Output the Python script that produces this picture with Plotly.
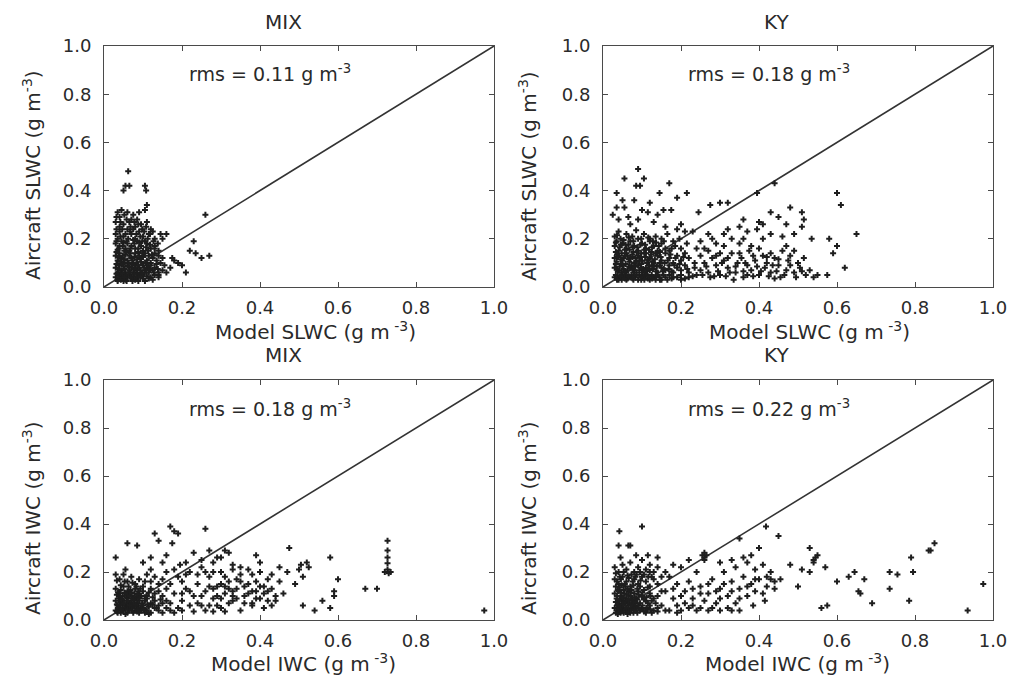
import plotly.graph_objects as go

# ---------------- data ----------------
panel_titles = ["MIX", "KY", "MIX", "KY"]
rms_values = ["0.11", "0.18", "0.18", "0.22"]
x_titles = ["Model SLWC", "Model SLWC", "Model IWC", "Model IWC"]
y_titles = ["Aircraft SLWC", "Aircraft SLWC", "Aircraft IWC", "Aircraft IWC"]
tick_vals = [0.0, 0.2, 0.4, 0.6, 0.8, 1.0]
tick_text = ["0.0", "0.2", "0.4", "0.6", "0.8", "1.0"]
one_to_one = [0.0, 1.0]

mix_slwc = [
    (0.062,0.48),(0.055,0.42),(0.065,0.42),(0.05,0.40),(0.105,0.42),(0.108,0.40),(0.11,0.34),(0.105,0.32),
    (0.26,0.30),(0.23,0.19),(0.22,0.15),(0.235,0.14),(0.25,0.12),(0.27,0.13),(0.175,0.12),(0.19,0.10),
    (0.20,0.09),(0.21,0.06),(0.15,0.20),(0.16,0.22),(0.155,0.09),(0.14,0.05),(0.18,0.11),(0.17,0.08),(0.13,0.16),
    (0.035,0.31),(0.045,0.32),(0.06,0.31),(0.075,0.30),(0.09,0.31),(0.04,0.29),(0.07,0.28),
    (0.03,0.27),(0.05,0.26),(0.065,0.27),(0.08,0.25),(0.095,0.26),(0.11,0.27),(0.04,0.25),(0.12,0.24),(0.085,0.28),
    (0.03,0.22),(0.04,0.23),(0.05,0.21),(0.06,0.24),(0.07,0.22),(0.08,0.20),(0.09,0.23),(0.10,0.21),(0.115,0.22),
    (0.13,0.20),(0.145,0.22),(0.035,0.20),(0.055,0.22),(0.075,0.24),(0.125,0.23),
    (0.03,0.18),(0.04,0.17),(0.045,0.19),(0.055,0.16),(0.06,0.18),(0.07,0.17),(0.08,0.16),(0.085,0.19),(0.095,0.17),
    (0.10,0.15),(0.11,0.18),(0.12,0.16),(0.13,0.17),(0.14,0.15),(0.035,0.155),(0.065,0.15),(0.09,0.185),(0.105,0.19),
    (0.075,0.195),(0.05,0.185),
    (0.03,0.13),(0.035,0.11),(0.04,0.14),(0.045,0.12),(0.05,0.10),(0.055,0.135),(0.06,0.11),(0.065,0.13),(0.07,0.12),
    (0.075,0.10),(0.08,0.14),(0.085,0.115),(0.09,0.13),(0.095,0.105),(0.10,0.125),(0.105,0.14),(0.11,0.11),(0.115,0.13),
    (0.12,0.10),(0.125,0.12),(0.13,0.14),(0.135,0.11),(0.14,0.13),(0.15,0.12),(0.145,0.10),
    (0.03,0.08),(0.035,0.06),(0.04,0.09),(0.045,0.07),(0.05,0.085),(0.055,0.06),(0.06,0.09),(0.065,0.07),(0.07,0.08),
    (0.075,0.06),(0.08,0.09),(0.085,0.07),(0.09,0.08),(0.095,0.06),(0.10,0.09),(0.105,0.07),(0.11,0.08),(0.115,0.06),
    (0.12,0.09),(0.125,0.07),(0.13,0.08),(0.14,0.06),(0.15,0.07),(0.16,0.06),(0.135,0.095),
    (0.03,0.04),(0.035,0.03),(0.04,0.05),(0.045,0.035),(0.05,0.045),(0.055,0.03),(0.06,0.04),(0.065,0.05),(0.07,0.035),
    (0.075,0.045),(0.08,0.03),(0.085,0.04),(0.09,0.05),(0.10,0.035),(0.11,0.045),(0.12,0.04),(0.13,0.05),(0.14,0.04),
    (0.035,0.025),(0.05,0.025),
]
mix_slwc_dense = [
    (0.032,0.29),(0.042,0.27),(0.052,0.30),(0.058,0.28),(0.068,0.25),(0.078,0.27),(0.088,0.26),(0.098,0.24),(0.108,0.25),(0.118,0.22),
    (0.032,0.24),(0.042,0.21),(0.047,0.24),(0.062,0.20),(0.067,0.23),(0.083,0.22),(0.093,0.21),(0.103,0.23),(0.112,0.20),(0.127,0.19),
    (0.032,0.19),(0.038,0.16),(0.048,0.17),(0.052,0.15),(0.058,0.19),(0.068,0.16),(0.078,0.18),(0.088,0.16),(0.098,0.19),(0.108,0.165),
    (0.118,0.175),(0.138,0.18),
    (0.032,0.145),(0.038,0.125),(0.043,0.105),(0.048,0.13),(0.053,0.115),(0.058,0.145),(0.063,0.10),(0.068,0.14),(0.073,0.11),
    (0.078,0.125),(0.083,0.10),(0.088,0.145),(0.093,0.12),(0.098,0.14),(0.108,0.10),(0.113,0.15),(0.123,0.135),
    (0.032,0.095),(0.038,0.075),(0.043,0.055),(0.048,0.095),(0.053,0.075),(0.058,0.05),(0.063,0.085),(0.068,0.06),(0.073,0.095),
    (0.078,0.075),(0.083,0.055),(0.088,0.09),(0.093,0.07),(0.098,0.05),(0.103,0.08),(0.108,0.06),(0.113,0.09),(0.118,0.075),
    (0.128,0.06),(0.138,0.075),
    (0.032,0.055),(0.038,0.04),(0.043,0.03),(0.048,0.055),(0.053,0.04),(0.058,0.025),(0.063,0.06),(0.068,0.04),(0.073,0.025),
    (0.078,0.055),(0.083,0.035),(0.088,0.025),(0.093,0.04),(0.098,0.055),(0.105,0.025),(0.115,0.035),(0.125,0.03),
]

ky_slwc = [
    (0.035,0.39),(0.09,0.49),(0.055,0.45),(0.105,0.45),(0.085,0.42),(0.095,0.42),(0.145,0.39),(0.17,0.43),(0.19,0.37),
    (0.215,0.39),(0.035,0.33),(0.055,0.33),(0.05,0.36),(0.08,0.36),(0.12,0.35),(0.10,0.32),(0.155,0.32),(0.175,0.32),
    (0.275,0.34),(0.30,0.35),(0.32,0.35),(0.245,0.31),(0.395,0.39),(0.44,0.43),(0.48,0.33),(0.51,0.31),(0.515,0.28),
    (0.51,0.25),(0.45,0.29),(0.43,0.31),(0.40,0.27),(0.60,0.39),(0.61,0.34),(0.65,0.22),(0.535,0.20),(0.58,0.20),
    (0.49,0.22),(0.60,0.17),(0.59,0.14),(0.62,0.08),(0.575,0.05),(0.55,0.05),(0.43,0.22),(0.395,0.24),(0.36,0.20),
    (0.38,0.17),(0.35,0.25),(0.32,0.24),(0.27,0.22),(0.28,0.20),(0.30,0.14),
    (0.065,0.29),(0.09,0.28),(0.13,0.27),(0.16,0.25),(0.19,0.24),(0.21,0.23),(0.14,0.30),(0.115,0.31),(0.04,0.28),
    (0.025,0.30),(0.07,0.26),(0.20,0.26),(0.23,0.23),
    (0.03,0.21),(0.045,0.20),(0.06,0.22),(0.075,0.21),(0.09,0.20),(0.105,0.22),(0.12,0.20),(0.135,0.21),(0.15,0.20),
    (0.165,0.22),(0.18,0.19),(0.04,0.23),(0.085,0.235),
    (0.03,0.17),(0.04,0.15),(0.05,0.18),(0.06,0.16),(0.07,0.19),(0.08,0.17),(0.09,0.15),(0.10,0.18),(0.11,0.16),
    (0.12,0.19),(0.13,0.17),(0.14,0.15),(0.15,0.18),(0.16,0.16),(0.17,0.15),(0.185,0.17),(0.20,0.16),(0.215,0.18),
    (0.035,0.19),(0.065,0.175),
    (0.03,0.12),(0.04,0.13),(0.05,0.11),(0.06,0.14),(0.07,0.12),(0.08,0.10),(0.09,0.13),(0.10,0.11),(0.11,0.14),
    (0.12,0.12),(0.13,0.10),(0.14,0.13),(0.15,0.11),(0.16,0.14),(0.17,0.12),(0.18,0.10),(0.19,0.13),(0.20,0.11),
    (0.21,0.14),(0.22,0.12),(0.235,0.10),(0.035,0.105),(0.075,0.135),(0.125,0.145),
    (0.03,0.08),(0.04,0.07),(0.05,0.09),(0.06,0.06),(0.07,0.08),(0.08,0.07),(0.09,0.09),(0.10,0.06),(0.11,0.08),
    (0.12,0.07),(0.13,0.09),(0.14,0.06),(0.15,0.08),(0.16,0.07),(0.17,0.09),(0.18,0.06),(0.19,0.08),(0.20,0.07),
    (0.21,0.09),(0.22,0.06),(0.235,0.08),(0.25,0.07),
    (0.03,0.04),(0.04,0.03),(0.05,0.05),(0.06,0.03),(0.07,0.04),(0.08,0.05),(0.09,0.03),(0.10,0.04),(0.11,0.05),
    (0.12,0.03),(0.13,0.04),(0.14,0.05),(0.15,0.03),(0.16,0.04),(0.17,0.05),(0.18,0.04),(0.20,0.05),(0.22,0.04),(0.24,0.05),
    (0.25,0.13),(0.26,0.10),(0.27,0.06),(0.28,0.12),(0.29,0.09),(0.30,0.05),(0.31,0.11),(0.32,0.08),(0.33,0.14),
    (0.34,0.06),(0.345,0.10),(0.355,0.12),(0.36,0.04),(0.37,0.09),(0.375,0.15),(0.38,0.07),(0.39,0.11),(0.40,0.05),
    (0.41,0.13),(0.415,0.08),(0.42,0.10),(0.43,0.06),(0.44,0.12),(0.45,0.09),(0.455,0.04),(0.46,0.15),(0.47,0.07),
    (0.475,0.11),(0.48,0.13),(0.49,0.06),(0.50,0.10),(0.505,0.08),(0.515,0.12),(0.52,0.05),(0.53,0.07),(0.54,0.04),
    (0.26,0.16),(0.285,0.045),(0.31,0.17),(0.335,0.03),(0.35,0.18),(0.37,0.05),(0.40,0.16),(0.43,0.14),(0.44,0.035),
    (0.47,0.17),(0.49,0.15),(0.33,0.20),(0.31,0.22),(0.37,0.23),(0.41,0.20),(0.46,0.21),(0.25,0.19),(0.24,0.16),
    (0.29,0.18),(0.41,0.26),(0.47,0.26),(0.36,0.28),
]
ky_slwc_dense = [
    (0.033,0.185),(0.043,0.165),(0.053,0.195),(0.058,0.175),(0.068,0.155),(0.078,0.19),(0.088,0.165),(0.098,0.20),(0.108,0.175),
    (0.118,0.155),(0.128,0.19),(0.143,0.17),
    (0.033,0.145),(0.038,0.125),(0.048,0.14),(0.053,0.12),(0.063,0.13),(0.068,0.105),(0.078,0.145),(0.083,0.12),(0.093,0.11),
    (0.098,0.14),(0.108,0.125),(0.113,0.10),(0.123,0.135),(0.133,0.115),(0.148,0.125),(0.158,0.10),(0.173,0.135),
    (0.033,0.095),(0.038,0.065),(0.043,0.085),(0.048,0.06),(0.053,0.075),(0.058,0.095),(0.063,0.07),(0.073,0.09),(0.078,0.06),
    (0.083,0.085),(0.093,0.07),(0.098,0.095),(0.103,0.075),(0.113,0.065),(0.118,0.09),(0.128,0.075),(0.138,0.085),(0.153,0.065),
    (0.168,0.075),(0.183,0.09),
    (0.033,0.05),(0.038,0.035),(0.043,0.045),(0.048,0.03),(0.053,0.04),(0.058,0.05),(0.063,0.035),(0.073,0.05),(0.078,0.03),
    (0.083,0.04),(0.093,0.05),(0.098,0.03),(0.105,0.045),(0.115,0.035),(0.125,0.05),(0.135,0.03),(0.145,0.04),(0.155,0.05),
    (0.165,0.03),(0.19,0.04),(0.21,0.035),(0.23,0.045),
    (0.255,0.05),(0.265,0.085),(0.275,0.04),(0.295,0.065),(0.305,0.10),(0.315,0.045),(0.325,0.06),(0.34,0.085),(0.36,0.065),
    (0.365,0.10),(0.385,0.045),(0.395,0.085),(0.405,0.065),(0.425,0.045),(0.435,0.09),(0.445,0.065),(0.465,0.05),(0.48,0.09),
    (0.495,0.04),(0.51,0.065),(0.45,0.115),(0.42,0.125),(0.385,0.13),(0.35,0.14),(0.32,0.12),(0.29,0.13),(0.27,0.15),
    (0.036,0.215),(0.046,0.175),(0.056,0.155),(0.066,0.205),(0.076,0.165),(0.086,0.145),(0.096,0.175),(0.106,0.155),
    (0.116,0.205),(0.126,0.165),(0.136,0.185),(0.146,0.145),(0.156,0.19),(0.176,0.16),(0.196,0.20),
    (0.036,0.135),(0.046,0.115),(0.056,0.13),(0.066,0.115),(0.076,0.125),(0.086,0.105),(0.096,0.125),(0.106,0.14),
    (0.116,0.115),(0.126,0.105),(0.136,0.14),(0.146,0.10),(0.166,0.11),(0.186,0.12),(0.206,0.125),
    (0.036,0.075),(0.046,0.095),(0.056,0.065),(0.066,0.085),(0.076,0.075),(0.086,0.06),(0.096,0.08),(0.106,0.065),
    (0.116,0.075),(0.126,0.085),(0.136,0.065),(0.146,0.09),(0.156,0.075),(0.176,0.065),(0.196,0.095),(0.216,0.075),
    (0.036,0.03),(0.046,0.045),(0.056,0.035),(0.066,0.045),(0.076,0.035),(0.086,0.05),(0.096,0.04),(0.106,0.03),
    (0.116,0.045),(0.126,0.035),(0.136,0.045),(0.146,0.03),(0.176,0.035),(0.20,0.03),
]

mix_iwc = [
    (0.03,0.26),(0.06,0.32),(0.085,0.31),(0.13,0.36),(0.14,0.33),(0.17,0.39),(0.18,0.37),(0.19,0.36),(0.175,0.32),
    (0.26,0.38),(0.475,0.30),(0.58,0.26),(0.52,0.24),(0.525,0.22),(0.51,0.18),(0.49,0.15),(0.47,0.20),(0.45,0.16),
    (0.60,0.17),(0.59,0.12),(0.59,0.10),(0.56,0.08),(0.58,0.05),(0.54,0.04),(0.51,0.06),(0.67,0.13),(0.70,0.13),
    (0.727,0.33),(0.727,0.29),(0.727,0.26),(0.727,0.236),(0.727,0.21),(0.72,0.20),(0.735,0.20),(0.73,0.195),
    (0.975,0.04),(0.39,0.27),(0.40,0.24),(0.39,0.16),(0.41,0.14),(0.32,0.28),(0.33,0.23),(0.35,0.19),(0.29,0.26),
    (0.23,0.28),(0.21,0.24),(0.195,0.23),
    (0.45,0.22),(0.43,0.19),(0.37,0.21),(0.42,0.12),(0.44,0.08),(0.46,0.11),(0.50,0.21),(0.505,0.23),(0.27,0.29),
    (0.31,0.29),(0.30,0.26),(0.25,0.25),(0.15,0.24),(0.12,0.26),(0.16,0.27),(0.10,0.24),(0.12,0.21),(0.055,0.21),
    (0.03,0.19),(0.04,0.17),(0.05,0.19),(0.06,0.16),(0.07,0.18),(0.08,0.15),(0.09,0.17),(0.10,0.14),(0.11,0.19),
    (0.12,0.16),(0.13,0.18),(0.14,0.15),(0.15,0.17),
    (0.03,0.13),(0.04,0.11),(0.05,0.14),(0.06,0.12),(0.07,0.10),(0.08,0.13),(0.09,0.11),(0.10,0.12),(0.11,0.10),
    (0.12,0.13),(0.13,0.11),(0.14,0.12),(0.15,0.10),(0.16,0.13),
    (0.03,0.08),(0.035,0.06),(0.04,0.09),(0.045,0.07),(0.05,0.08),(0.055,0.06),(0.06,0.09),(0.065,0.07),(0.07,0.08),
    (0.075,0.06),(0.08,0.09),(0.085,0.07),(0.09,0.08),(0.10,0.06),(0.11,0.09),(0.12,0.07),(0.13,0.08),(0.14,0.06),
    (0.15,0.07),(0.16,0.08),
    (0.03,0.04),(0.035,0.03),(0.04,0.05),(0.05,0.04),(0.06,0.03),(0.07,0.05),(0.08,0.04),(0.09,0.03),(0.10,0.05),
    (0.11,0.04),(0.12,0.03),(0.13,0.05),(0.14,0.04),(0.15,0.03),(0.16,0.05),(0.17,0.04),(0.18,0.03),(0.19,0.05),(0.20,0.04),
    (0.17,0.15),(0.18,0.11),(0.19,0.18),(0.20,0.08),(0.21,0.13),(0.22,0.20),(0.23,0.10),(0.24,0.15),(0.25,0.06),
    (0.26,0.12),(0.27,0.18),(0.28,0.09),(0.29,0.14),(0.30,0.20),(0.30,0.05),(0.31,0.11),(0.32,0.16),(0.33,0.08),
    (0.34,0.13),(0.35,0.22),(0.35,0.04),(0.36,0.10),(0.37,0.15),(0.38,0.07),(0.38,0.19),(0.39,0.12),(0.40,0.09),
    (0.41,0.05),(0.42,0.17),(0.43,0.13),(0.44,0.10),(0.20,0.16),(0.22,0.06),(0.24,0.19),(0.26,0.04),(0.27,0.14),
    (0.28,0.20),(0.29,0.06),(0.31,0.18),(0.32,0.13),(0.33,0.21),(0.34,0.09),(0.36,0.14),(0.37,0.11),(0.38,0.06),
    (0.40,0.20),(0.40,0.14),(0.42,0.08),(0.18,0.21),(0.17,0.07),(0.31,0.035),(0.23,0.035),(0.28,0.035),(0.33,0.12),
    (0.35,0.16),(0.30,0.15),
]
mix_iwc_dense = [
    (0.033,0.165),(0.043,0.145),(0.053,0.16),(0.063,0.14),(0.073,0.155),(0.083,0.14),(0.093,0.13),(0.105,0.16),
    (0.033,0.105),(0.038,0.09),(0.043,0.125),(0.048,0.10),(0.053,0.115),(0.058,0.095),(0.063,0.105),(0.068,0.125),
    (0.073,0.09),(0.078,0.11),(0.083,0.095),(0.088,0.12),(0.095,0.10),(0.105,0.09),(0.115,0.115),(0.125,0.095),
    (0.033,0.065),(0.038,0.05),(0.043,0.075),(0.048,0.06),(0.053,0.05),(0.058,0.07),(0.063,0.055),(0.068,0.065),
    (0.073,0.05),(0.078,0.07),(0.083,0.055),(0.088,0.06),(0.093,0.05),(0.098,0.07),(0.105,0.08),(0.115,0.055),
    (0.125,0.065),(0.135,0.05),(0.145,0.085),
    (0.033,0.035),(0.043,0.03),(0.048,0.04),(0.055,0.025),(0.065,0.04),(0.075,0.03),(0.085,0.035),(0.095,0.04),
    (0.105,0.03),(0.115,0.025),
    (0.22,0.12),(0.25,0.10),(0.28,0.13),(0.30,0.09),(0.32,0.07),(0.33,0.10),(0.34,0.17),(0.36,0.07),(0.38,0.12),
    (0.39,0.09),(0.41,0.11),(0.43,0.06),(0.26,0.20),(0.20,0.11),(0.24,0.07),(0.27,0.06),(0.29,0.10),(0.31,0.14),
    (0.21,0.19),(0.16,0.20),(0.25,0.22),(0.28,0.24),
    (0.036,0.115),(0.041,0.10),(0.046,0.085),(0.056,0.11),(0.061,0.08),(0.066,0.10),(0.071,0.115),(0.076,0.085),
    (0.086,0.105),(0.091,0.09),
    (0.036,0.05),(0.041,0.065),(0.046,0.045),(0.051,0.07),(0.061,0.045),(0.066,0.06),(0.071,0.04),(0.081,0.065),
    (0.086,0.045),(0.096,0.06),(0.101,0.045),(0.111,0.065),
]

ky_iwc = [
    (0.042,0.37),(0.10,0.39),(0.04,0.31),(0.065,0.31),(0.07,0.31),(0.045,0.26),(0.085,0.27),(0.115,0.27),(0.418,0.39),
    (0.45,0.35),(0.35,0.34),(0.40,0.30),(0.26,0.28),(0.26,0.26),(0.26,0.25),(0.265,0.27),(0.255,0.27),(0.53,0.30),
    (0.545,0.26),(0.54,0.24),(0.53,0.20),(0.51,0.21),(0.48,0.23),(0.57,0.22),(0.60,0.16),(0.645,0.20),(0.63,0.18),
    (0.67,0.17),(0.655,0.12),(0.66,0.11),(0.69,0.07),(0.735,0.13),(0.735,0.20),(0.755,0.19),(0.79,0.26),(0.795,0.20),
    (0.785,0.08),(0.835,0.29),(0.85,0.32),(0.975,0.15),(0.935,0.04),(0.56,0.05),(0.575,0.06),(0.50,0.14),(0.44,0.13),
    (0.455,0.17),(0.42,0.18),(0.415,0.08),(0.385,0.06),(0.84,0.29),(0.54,0.25),(0.55,0.27),
    (0.20,0.22),(0.22,0.25),(0.24,0.20),(0.22,0.16),(0.21,0.12),(0.23,0.09),(0.25,0.14),(0.27,0.11),(0.28,0.17),
    (0.29,0.07),(0.30,0.13),(0.31,0.20),(0.32,0.10),(0.33,0.16),(0.34,0.22),(0.34,0.07),(0.35,0.13),(0.36,0.18),
    (0.37,0.24),(0.37,0.10),(0.38,0.15),(0.39,0.21),(0.39,0.12),(0.40,0.17),(0.41,0.23),(0.42,0.14),(0.43,0.20),
    (0.44,0.16),(0.30,0.24),(0.33,0.25),(0.36,0.26),(0.38,0.27),(0.25,0.05),(0.27,0.04),(0.20,0.04),(0.22,0.05),
    (0.24,0.04),(0.17,0.04),(0.19,0.06),(0.18,0.09),(0.16,0.12),(0.19,0.15),(0.17,0.18),(0.31,0.15),(0.29,0.12),
    (0.32,0.05),(0.26,0.08),(0.28,0.05),(0.35,0.04),(0.21,0.07),
    (0.03,0.22),(0.04,0.20),(0.05,0.23),(0.06,0.21),(0.07,0.24),(0.08,0.20),(0.09,0.22),(0.10,0.25),(0.11,0.21),
    (0.12,0.23),(0.13,0.20),(0.14,0.22),
    (0.03,0.17),(0.04,0.15),(0.05,0.18),(0.06,0.16),(0.07,0.14),(0.08,0.17),(0.09,0.15),(0.10,0.18),(0.11,0.16),
    (0.12,0.14),(0.13,0.17),(0.14,0.15),(0.15,0.18),
    (0.03,0.11),(0.035,0.09),(0.04,0.12),(0.045,0.10),(0.05,0.08),(0.055,0.11),(0.06,0.09),(0.065,0.12),(0.07,0.10),
    (0.075,0.08),(0.08,0.11),(0.085,0.09),(0.09,0.12),(0.10,0.10),(0.11,0.08),(0.12,0.11),(0.13,0.09),(0.14,0.10),(0.15,0.12),
    (0.03,0.05),(0.035,0.04),(0.04,0.06),(0.045,0.03),(0.05,0.05),(0.055,0.07),(0.06,0.04),(0.065,0.06),(0.07,0.03),
    (0.075,0.05),(0.08,0.07),(0.085,0.04),(0.09,0.06),(0.10,0.05),(0.11,0.03),(0.12,0.06),(0.13,0.04),(0.14,0.05),
    (0.15,0.06),(0.16,0.04),
]
ky_iwc_dense = [
    (0.033,0.195),(0.043,0.18),(0.053,0.20),(0.063,0.185),(0.073,0.19),(0.083,0.18),(0.095,0.20),(0.105,0.19),(0.125,0.18),
    (0.033,0.14),(0.038,0.125),(0.043,0.135),(0.048,0.145),(0.053,0.125),(0.058,0.14),(0.063,0.13),(0.073,0.125),
    (0.078,0.145),(0.088,0.13),(0.095,0.14),(0.105,0.125),(0.115,0.135),
    (0.033,0.075),(0.038,0.065),(0.043,0.085),(0.048,0.07),(0.053,0.09),(0.058,0.075),(0.063,0.08),(0.068,0.07),
    (0.073,0.085),(0.078,0.065),(0.083,0.075),(0.088,0.085),(0.095,0.07),(0.105,0.085),(0.115,0.07),(0.125,0.08),(0.135,0.07),
    (0.033,0.03),(0.038,0.025),(0.043,0.045),(0.048,0.035),(0.053,0.03),(0.058,0.045),(0.063,0.025),(0.068,0.04),
    (0.073,0.045),(0.078,0.03),(0.083,0.055),(0.088,0.03),(0.095,0.04),(0.105,0.035),(0.115,0.045),(0.125,0.03),(0.14,0.035),
    (0.18,0.13),(0.20,0.10),(0.23,0.13),(0.25,0.11),(0.27,0.15),(0.30,0.09),(0.33,0.12),(0.35,0.09),(0.37,0.14),
    (0.39,0.17),(0.41,0.11),(0.43,0.17),(0.30,0.04),(0.33,0.04),(0.23,0.06),(0.19,0.03),(0.16,0.20),(0.18,0.23),
    (0.14,0.26),(0.12,0.20),
    (0.036,0.16),(0.046,0.17),(0.056,0.15),(0.066,0.175),(0.076,0.16),(0.086,0.19),(0.096,0.165),(0.116,0.18),
    (0.036,0.10),(0.041,0.08),(0.046,0.115),(0.051,0.095),(0.061,0.105),(0.066,0.085),(0.071,0.115),(0.081,0.095),
    (0.091,0.105),(0.101,0.115),(0.111,0.095),(0.121,0.10),
    (0.036,0.06),(0.041,0.045),(0.046,0.055),(0.051,0.065),(0.061,0.05),(0.066,0.035),(0.071,0.06),(0.081,0.045),
    (0.091,0.05),(0.101,0.06),(0.111,0.05),(0.121,0.045),
]

panels_data = [mix_slwc + mix_slwc_dense, ky_slwc + ky_slwc_dense,
               mix_iwc + mix_iwc_dense, ky_iwc + ky_iwc_dense]

# ---------------- layout geometry ----------------
W, H = 1012, 679
FONT = "DejaVu Sans"
TXT = "#2a2a2a"
AX = "#4a4a4a"

# target positions in screen pixels: (left, right, top, bottom)
boxes = [(104, 494, 46, 287), (603, 993, 46, 287), (104, 494, 380, 620), (603, 993, 380, 620)]
title_pos = [(283, 22), (776, 22), (283, 355), (776, 355)]
xtitle_pos = [(315, 331), (809, 331), (303, 663), (797, 663)]
ytitle_pos = [(32, 175), (528, 176), (32, 518), (528, 518)]
rms_pos = [(270, 73), (769, 73), (270, 408), (769, 408)]


def px(x):
    return x / W


def py(y):
    return 1 - y / H


fig = go.Figure()
annotations = []

for i, (pts, box) in enumerate(zip(panels_data, boxes)):
    sfx = "" if i == 0 else str(i + 1)
    xref, yref = "x" + sfx, "y" + sfx
    l, r, t, b = box
    xs = [p[0] for p in pts]
    ys = [p[1] for p in pts]
    fig.add_trace(go.Scatter(
        x=one_to_one, y=one_to_one, mode="lines",
        line=dict(color="#333333", width=1.6),
        xaxis=xref, yaxis=yref, showlegend=False, hoverinfo="skip"))
    fig.add_trace(go.Scatter(
        x=xs, y=ys, mode="markers",
        marker=dict(symbol="cross", size=5, color="#1e1e1e", line=dict(width=0)),
        xaxis=xref, yaxis=yref, showlegend=False))

    axis_common = dict(
        range=[0, 1], tickmode="array", tickvals=tick_vals, ticktext=tick_text,
        ticks="inside", ticklen=5, tickwidth=1, tickcolor=AX,
        showline=True, linecolor=AX, linewidth=1, mirror="ticks",
        showgrid=False, zeroline=False, automargin=False,
        tickfont=dict(family=FONT, size=18, color=TXT),
    )
    fig.update_layout(**{
        "xaxis" + sfx: dict(axis_common, domain=[px(l), px(r)], anchor=yref, ticklabelstandoff=4),
        "yaxis" + sfx: dict(axis_common, domain=[py(b), py(t)], anchor=xref, ticklabelstandoff=8),
    })

    tx, ty = title_pos[i]
    annotations.append(dict(text=panel_titles[i], x=px(tx), y=py(ty),
                            xref="paper", yref="paper", showarrow=False,
                            xanchor="center", yanchor="middle",
                            font=dict(family=FONT, size=20, color=TXT)))
    tx, ty = xtitle_pos[i]
    annotations.append(dict(text=x_titles[i] + " (g m<sup> -3</sup>)", x=px(tx), y=py(ty),
                            xref="paper", yref="paper", showarrow=False,
                            xanchor="center", yanchor="middle",
                            font=dict(family=FONT, size=20, color=TXT)))
    tx, ty = ytitle_pos[i]
    annotations.append(dict(text=y_titles[i] + " (g m<sup>-3</sup>)", x=px(tx), y=py(ty),
                            xref="paper", yref="paper", showarrow=False, textangle=-90,
                            xanchor="center", yanchor="middle",
                            font=dict(family=FONT, size=20, color=TXT)))
    tx, ty = rms_pos[i]
    annotations.append(dict(text="rms = " + rms_values[i] + " g m<sup>-3</sup>", x=px(tx), y=py(ty),
                            xref="paper", yref="paper", showarrow=False,
                            xanchor="center", yanchor="middle",
                            font=dict(family=FONT, size=19, color=TXT)))

fig.update_layout(
    template="none",
    width=W, height=H, margin=dict(l=0, r=0, t=0, b=0, pad=0, autoexpand=False),
    paper_bgcolor="white", plot_bgcolor="white",
    annotations=annotations, showlegend=False,
)

# remove the default page margin so the figure fills the 1012x679 window exactly
fig.write_html(
    "out.html",
    config={"displayModeBar": False},
    post_script="document.body.style.margin='0px';document.body.style.overflow='hidden';",
)
